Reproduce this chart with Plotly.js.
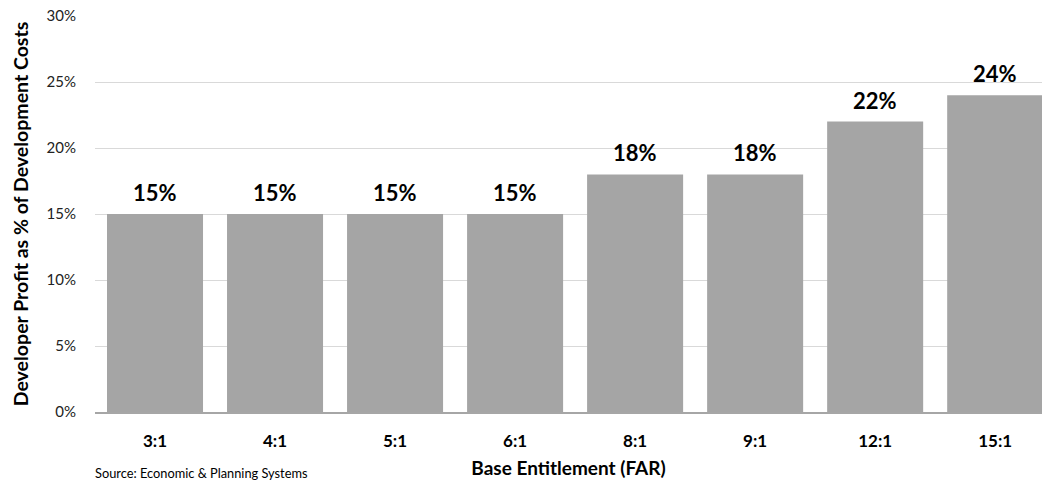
<!DOCTYPE html>
<html>
<head>
<meta charset="utf-8">
<script src="https://cdn.plot.ly/plotly-3.0.1.min.js"></script>
<style>
  html, body { margin: 0; padding: 0; background: #fff; }
  #chart { width: 1042px; height: 481px; }
</style>
</head>
<body>
<div id="chart"></div>
<script>
// Base entitlement (FAR) categories and developer profit as % of development costs
const farLabels = ['3:1', '4:1', '5:1', '6:1', '8:1', '9:1', '12:1', '15:1'];
const profitPct = [15, 15, 15, 15, 18, 18, 22, 24];
const yTickValues = [0, 5, 10, 15, 20, 25, 30];
const yTickLabels = ['0%', '5%', '10%', '15%', '20%', '25%', '30%'];

const FONT = 'Lato, Carlito, Calibri, "Open Sans", sans-serif';

const bars = {
  type: 'bar',
  x: farLabels,
  y: profitPct,
  marker: { color: '#a5a5a5' },
  hoverinfo: 'x+y'
};

// Value labels sit just above each bar
const valueLabels = farLabels.map((cat, i) => ({
  x: cat,
  y: profitPct[i],
  xref: 'x',
  yref: 'y',
  text: profitPct[i] + '%',
  showarrow: false,
  yanchor: 'bottom',
  yshift: 6,
  font: { family: FONT, size: 22, color: '#000', weight: 'bold' }
}));

const layout = {
  width: 1042,
  height: 481,
  margin: { l: 95, r: 0, t: 16, b: 69 },
  paper_bgcolor: '#fff',
  plot_bgcolor: '#fff',
  bargap: 0.2,
  showlegend: false,
  font: { family: FONT, color: '#000' },
  xaxis: {
    type: 'category',
    range: [-0.5, 7.39],
    showgrid: false,
    showline: true,
    linecolor: '#a6a6a6',
    linewidth: 1.5,
    ticks: '',
    ticklabelstandoff: 13,
    tickfont: { family: FONT, size: 17, color: '#000', weight: 'bold' },
    title: {
      text: 'Base Entitlement (FAR)',
      font: { family: FONT, size: 19, color: '#000', weight: 'bold' },
      standoff: 12
    },
    fixedrange: true
  },
  yaxis: {
    range: [0, 30],
    tickvals: yTickValues,
    ticktext: yTickLabels,
    showgrid: true,
    gridcolor: '#d9d9d9',
    gridwidth: 1,
    zeroline: false,
    showline: false,
    ticks: '',
    ticklabelstandoff: 18,
    tickfont: { family: FONT, size: 15, color: '#222' },
    title: {
      text: 'Developer Profit as % of Development Costs',
      font: { family: FONT, size: 19.5, color: '#000', weight: 'bold' },
      standoff: 12
    },
    fixedrange: true
  },
  annotations: valueLabels.concat([{
    xref: 'paper',
    yref: 'paper',
    x: -0.002,
    y: 0,
    xanchor: 'left',
    yanchor: 'top',
    yshift: -51,
    text: 'Source: Economic &amp; Planning Systems',
    showarrow: false,
    font: { family: FONT, size: 12.8, color: '#000' }
  }])
};

Plotly.newPlot('chart', [bars], layout, { displayModeBar: false, staticPlot: true });
</script>
</body>
</html>
